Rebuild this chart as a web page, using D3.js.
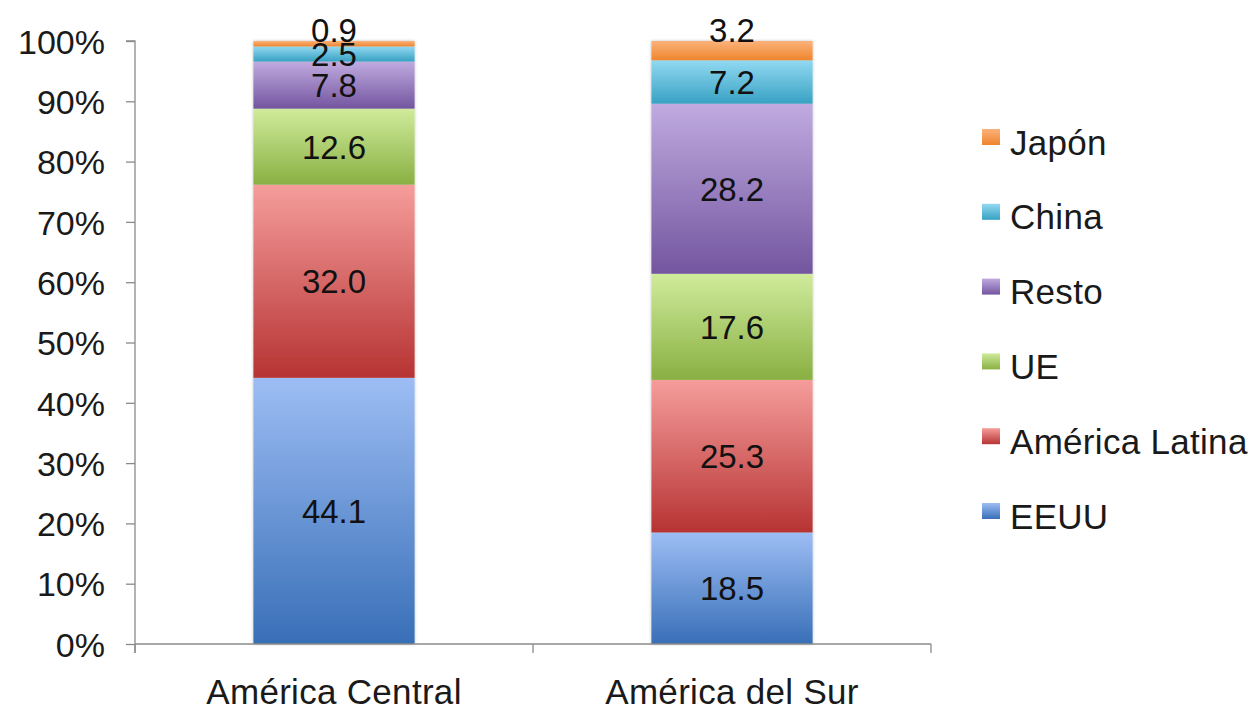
<!DOCTYPE html>
<html>
<head>
<meta charset="utf-8">
<script src="https://cdn.jsdelivr.net/npm/d3@7"></script>
<style>
  body { margin: 0; background: #fff; }
  text { font-family: 'Liberation Sans', Arial, sans-serif; }
</style>
</head>
<body>
<svg id="chart" width="1255" height="711"></svg>
<script>
'use strict';
const REGIONS = ['América Central', 'América del Sur'];
const SERIES = ['EEUU', 'América Latina', 'UE', 'Resto', 'China', 'Japón'];
const CENTRAL = [44.1, 32.0, 12.6, 7.8, 2.5, 0.9];
const SUR = [18.5, 25.3, 17.6, 28.2, 7.2, 3.2];
const Y_TICKS = [0, 0.1, 0.2, 0.3, 0.4, 0.5, 0.6, 0.7, 0.8, 0.9, 1];
const TOP_COLORS = ['#9dbdf4', '#f59d9b', '#d0eb9c', '#c0abe0', '#92d9f2', '#fbb27c'];
const BOTTOM_COLORS = ['#386fb7', '#b73333', '#89b042', '#73559f', '#38a1c3', '#ef852c'];

const data = REGIONS.map((r, i) => {
  let row = { region: r };
  let vals = i === 0 ? CENTRAL : SUR;
  SERIES.forEach((s, j) => (row[s] = vals[j]));
  return row;
});

const svg = d3.select('#chart');
const margin = { top: 41, left: 135, bottom: 67 };
const plotW = 796;
const height = 711 - margin.top - margin.bottom;

const defs = svg.append('defs');
SERIES.forEach((s, i) => {
  let g = defs.append('linearGradient')
    .attr('id', 'grad' + i)
    .attr('x1', 0).attr('y1', 0).attr('x2', 0).attr('y2', 1);
  g.append('stop').attr('offset', '0%').attr('stop-color', TOP_COLORS[i]);
  g.append('stop').attr('offset', '100%').attr('stop-color', BOTTOM_COLORS[i]);
});
let shadow = defs.append('filter').attr('id', 'shadow')
  .attr('x', '-10%').attr('y', '-10%').attr('width', '120%').attr('height', '120%');
shadow.append('feDropShadow').attr('dx', 0).attr('dy', 0)
  .attr('stdDeviation', 1.5).attr('flood-color', '#000').attr('flood-opacity', 0.25);

const chart = svg.append('g').attr('transform', `translate(${margin.left},${margin.top})`);

const x = d3.scaleBand().domain(REGIONS).range([0, plotW]).paddingInner(0.595).paddingOuter(0.2975);
const y = d3.scaleLinear().domain([0, 1]).range([height, 0]);

const stacked = d3.stack().keys(SERIES).offset(d3.stackOffsetExpand)(data);

// bars
const layers = chart.append('g').attr('filter', 'url(#shadow)')
  .selectAll('g').data(stacked).join('g')
  .attr('fill', (d, i) => `url(#grad${i})`);
layers.selectAll('rect').data((d) => d).join('rect')
  .attr('x', (d) => x(d.data.region))
  .attr('width', x.bandwidth())
  .attr('y', (d) => y(d[1]))
  .attr('height', (d) => y(d[0]) - y(d[1]));

// axes
chart.append('g')
  .call(d3.axisLeft(y).tickValues(Y_TICKS).tickFormat(d3.format('.0%')).tickSize(9).tickPadding(21))
  .call((g) => g.select('.domain').attr('stroke', '#8a8a8a').attr('stroke-width', 1.3).attr('d', `M-9,0H0V${height + 9}`))
  .call((g) => g.selectAll('.tick line').attr('stroke', '#8a8a8a').attr('stroke-width', 1.3))
  .call((g) => g.selectAll('.tick text').attr('fill', '#1a1a1a').attr('font-size', 34).attr('dy', '0.36em'));

const xAxis = chart.append('g').attr('transform', `translate(0,${height})`)
  .call(d3.axisBottom(x).tickSize(0).tickPadding(35))
  .call((g) => g.select('.domain').attr('stroke', '#8a8a8a').attr('stroke-width', 1.3).attr('d', `M0,0H${plotW}`))
  .call((g) => g.selectAll('.tick text').attr('fill', '#1a1a1a').attr('font-size', 35).attr('letter-spacing', 0.3));
xAxis.selectAll('.sep').data(d3.range(REGIONS.length + 1)).join('line')
  .attr('class', 'sep')
  .attr('x1', (i) => (plotW / REGIONS.length) * i).attr('x2', (i) => (plotW / REGIONS.length) * i)
  .attr('y1', 0).attr('y2', 9)
  .attr('stroke', '#8a8a8a').attr('stroke-width', 1.3);

// value labels
stacked.forEach((layer, i) => {
  chart.append('g').selectAll('text').data(layer).join('text')
    .attr('x', (d) => x(d.data.region) + x.bandwidth() / 2)
    .attr('y', (d) => (i === SERIES.length - 1 ? y(d[1]) - 11 : (y(d[0]) + y(d[1])) / 2))
    .attr('dy', '0.36em')
    .attr('text-anchor', 'middle')
    .attr('font-size', 33)
    .attr('fill', '#111')
    .text((d) => d3.format('.1f')(d.data[layer.key]));
});

// legend
const legend = svg.append('g').attr('transform', 'translate(982,129)');
const items = legend.selectAll('g').data(SERIES.slice().reverse()).join('g')
  .attr('transform', (d, i) => `translate(0,${i * 74.8})`);
items.append('rect')
  .attr('x', 0).attr('y', 0).attr('width', 18).attr('height', 16)
  .attr('fill', (d) => `url(#grad${SERIES.indexOf(d)})`);
items.append('text')
  .attr('x', 28).attr('y', 13).attr('dy', '0.36em')
  .attr('font-size', 35).attr('letter-spacing', 0.3).attr('fill', '#1a1a1a')
  .text((d) => d);
</script>
</body>
</html>
